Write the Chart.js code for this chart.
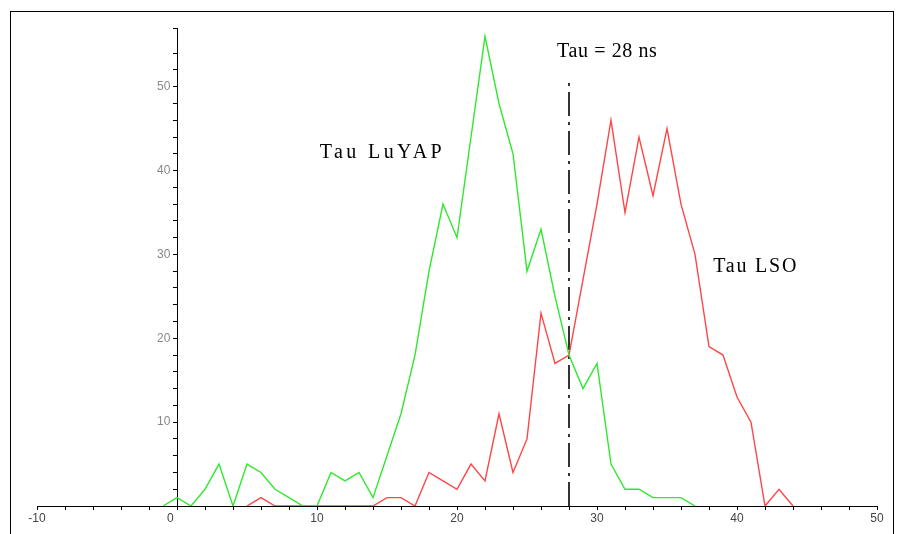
<!DOCTYPE html>
<html>
<head>
<meta charset="utf-8">
<script src="https://cdn.jsdelivr.net/npm/chart.js@4/dist/chart.umd.min.js"></script>
<style>
  html, body { margin: 0; padding: 0; background: #fff; }
  #wrap { position: relative; width: 898px; height: 534px; overflow: hidden; background: #fff; }
  #c { position: absolute; left: 0; top: 0; }
  #frame { position: absolute; left: 10px; top: 11px; width: 882px; height: 540px; border: 1px solid #000; pointer-events: none; }
</style>
</head>
<body>
<div id="wrap">
  <canvas id="c" width="898" height="534"></canvas>
  <div id="frame"></div>
</div>
<script>
// ---- data ----
const luyapX      = [-1, 0, 1, 2, 3, 4, 5, 6, 7, 8, 9, 10, 11, 12, 13, 14, 15, 16, 17, 18, 19, 20, 21, 22, 23, 24, 25, 26, 27, 28, 29, 30, 31, 32, 33, 34, 35, 36, 37];
const luyapCounts = [ 0, 1, 0, 2, 5, 0, 5, 4, 2, 1, 0,  0,  4,  3,  4,  1,  6, 11, 18, 28, 36, 32, 44, 56, 48, 42, 28, 33, 25, 18, 14, 17,  5,  2,  2,  1,  1,  1,  0];
const lsoX        = [5, 6, 7, 8, 9, 10, 11, 12, 13, 14, 15, 16, 17, 18, 19, 20, 21, 22, 23, 24, 25, 26, 27, 28, 29, 30, 31, 32, 33, 34, 35, 36, 37, 38, 39, 40, 41, 42, 43, 44];
const lsoCounts   = [0, 1, 0, 0, 0,  0,  0,  0,  0,  0,  1,  1,  0,  4,  3,  2,  5,  3, 11,  4,  8, 23, 17, 18, 27, 36, 46, 35, 44, 37, 45, 36, 30, 19, 18, 13, 10,  0,  2,  0];
const tauValue    = 28;
const tauLineTop  = 51;
const xTickLabels = ['-10', '0', '10', '20', '30', '40', '50'];
const yTickLabels = ['10', '20', '30', '40', '50'];
const seriesNames = ['Tau LuYAP', 'Tau LSO'];
const tauLabel    = 'Tau = 28 ns';

const toPoints = (xs, ys) => xs.map((x, i) => ({ x: x, y: ys[i] }));

const textPlugin = {
  id: 'labels',
  afterDatasetsDraw(chart) {
    const { ctx, chartArea, scales: { x, y } } = chart;
    // x axis line drawn over the curves (as in the reference)
    const py = y.getPixelForValue(0);
    ctx.save();
    ctx.strokeStyle = '#000';
    ctx.lineWidth = 1;
    ctx.beginPath();
    ctx.moveTo(chartArea.left, py + 0.5);
    ctx.lineTo(chartArea.right, py + 0.5);
    ctx.stroke();

    ctx.fillStyle = '#000';
    ctx.font = '20px "Liberation Serif", "Times New Roman", serif';
    ctx.textBaseline = 'alphabetic';
    ctx.textAlign = 'left';
    const notes = [
      { t: seriesNames[0], x: 10.2, y: 41.5, ls: '3.4px' },
      { t: seriesNames[1], x: 38.3, y: 27.9, ls: '1.8px' },
      { t: tauLabel,       x: 27.15, y: 53.6, ls: '0.6px' }
    ];
    notes.forEach(n => {
      ctx.letterSpacing = n.ls;
      ctx.fillText(n.t, x.getPixelForValue(n.x), y.getPixelForValue(n.y));
    });
    ctx.restore();
  }
};

new Chart(document.getElementById('c'), {
  type: 'line',
  data: {
    datasets: [
      {
        label: seriesNames[0],
        data: toPoints(luyapX, luyapCounts),
        borderColor: '#2fe82f',
        borderWidth: 1.4,
        pointRadius: 0,
        tension: 0,
        fill: false
      },
      {
        label: seriesNames[1],
        data: toPoints(lsoX, lsoCounts),
        borderColor: '#ff4646',
        borderWidth: 1.4,
        pointRadius: 0,
        tension: 0,
        fill: false
      },
      {
        label: tauLabel,
        data: [{ x: tauValue, y: 0 }, { x: tauValue, y: tauLineTop }],
        borderColor: '#333',
        borderWidth: 2,
        borderDash: [24, 6, 3, 6],
        pointRadius: 0,
        fill: false
      }
    ]
  },
  options: {
    responsive: false,
    animation: false,
    layout: { padding: { left: 37, right: 21, top: 28, bottom: 0 } },
    plugins: { legend: { display: false }, tooltip: { enabled: false } },
    scales: {
      x: {
        type: 'linear',
        min: -10,
        max: 50,
        afterFit(scale) { scale.height = 28; },
        border: { display: true, color: '#000', width: 1 },
        grid: { drawOnChartArea: false, drawTicks: true, tickLength: 4, color: '#000' },
        ticks: {
          stepSize: 2,
          autoSkip: false,
          maxRotation: 0,
          padding: 1,
          color: '#444',
          font: { family: '"Liberation Sans", Arial, sans-serif', size: 12 },
          callback: (v) => (v % 10 === 0 ? xTickLabels[(v + 10) / 10] + (v === 0 ? '\u2007\u2007' : '') : '')
        }
      },
      y: {
        type: 'linear',
        position: { x: 0 },
        min: 0,
        max: 57,
        border: { display: true, color: '#000', width: 1 },
        grid: { drawOnChartArea: false, drawTicks: true, tickLength: 4, color: '#000' },
        ticks: {
          stepSize: 2,
          autoSkip: false,
          color: '#888',
          font: { family: '"Liberation Sans", Arial, sans-serif', size: 12 },
          callback: (v) => (v % 10 === 0 && v > 0 ? yTickLabels[v / 10 - 1] + '\u2007' : '')
        }
      }
    }
  },
  plugins: [textPlugin]
});
</script>
</body>
</html>
